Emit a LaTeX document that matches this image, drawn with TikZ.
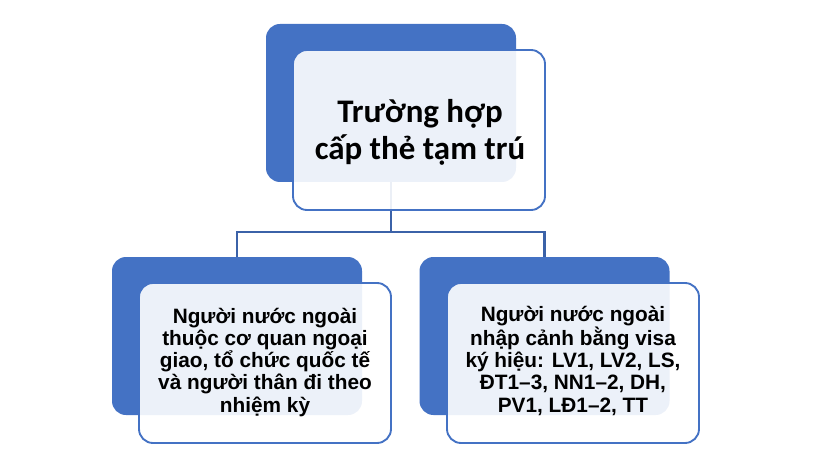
\documentclass[tikz,border=0pt]{standalone}
\usepackage{fontspec}
\setmainfont{Liberation Sans}
\newfontfamily\calfont{Carlito}
\definecolor{acc}{HTML}{4472C4}
\definecolor{conn}{HTML}{3B62A8}
\begin{document}
\begin{tikzpicture}[x=0.75pt,y=-0.75pt,
  bluebox/.style={rectangle,rounded corners=10.5pt,fill=acc,draw=none,minimum width=187.5pt,minimum height=118.5pt,inner sep=0pt},
  lightbox/.style={rectangle,rounded corners=10.5pt,fill=white,fill opacity=0.9,text opacity=1,draw=acc,line width=1.4pt,minimum width=189pt,minimum height=120pt,inner sep=0pt},
  boxtext/.style={align=center,inner sep=0pt}]
\useasboundingbox (0,0) rectangle (813,463);
\node[bluebox] (tb) at (391,103) {};
\node[bluebox] (lb) at (237,336) {};
\node[bluebox] (rb) at (544.5,336) {};
\coordinate (j) at (391,232);
\draw[draw=conn,line width=1.6pt] (tb.south) -- (j);
\draw[draw=conn,line width=1.6pt] (lb.north) |- (j) -| (rb.north);
\node[lightbox] (tl) at (419,130) {};
\node[lightbox] (ll) at (265,363) {};
\node[lightbox] (rl) at (573,363) {};
\node[boxtext,font=\calfont\bfseries\fontsize{24.7pt}{27.75pt}\selectfont,anchor=base] (tt) at (420,160) {Trường hợp\\cấp thẻ tạm trú};
\node[boxtext,font=\bfseries\fontsize{15.6pt}{16.65pt}\selectfont,anchor=base] (lt) at (265,412) {Người nước ngoài\\thuộc cơ quan ngoại\\giao, tổ chức quốc tế\\và người thân đi theo\\nhiệm kỳ};
\node[boxtext,font=\bfseries\fontsize{15.6pt}{16.65pt}\selectfont,anchor=base] (rt) at (573,412) {Người nước ngoài\\nhập cảnh bằng visa\\ký hiệu: LV1, LV2, LS,\\ĐT1–3, NN1–2, DH,\\PV1, LĐ1–2, TT};
\end{tikzpicture}
\end{document}
